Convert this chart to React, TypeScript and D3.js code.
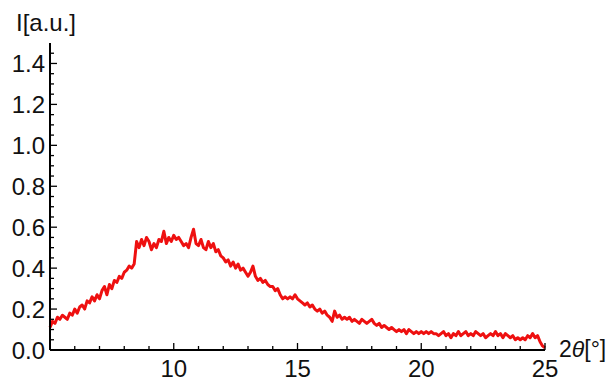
import React, { useEffect, useRef } from 'react';
import * as d3 from 'd3';

// sampling grid start / step of the scan (2θ in degrees)
const angleStart = 5;
const angleStep = 0.1;

// intensity, one value per 0.1° from 5° to 25°
const intensity = [
  0.11, 0.14, 0.13, 0.16, 0.15, 0.17, 0.16, 0.15, 0.18, 0.17,
  0.20, 0.18, 0.21, 0.22, 0.20, 0.24, 0.23, 0.26, 0.24, 0.27,
  0.25, 0.29, 0.31, 0.27, 0.32, 0.30, 0.34, 0.33, 0.36, 0.35,
  0.38, 0.39, 0.41, 0.40, 0.42, 0.53, 0.50, 0.54, 0.51, 0.55,
  0.53, 0.49, 0.52, 0.50, 0.54, 0.53, 0.58, 0.52, 0.55, 0.53,
  0.56, 0.54, 0.55, 0.53, 0.51, 0.52, 0.50, 0.55, 0.59, 0.52,
  0.51, 0.54, 0.50, 0.49, 0.53, 0.50, 0.52, 0.48, 0.49, 0.46,
  0.45, 0.43, 0.44, 0.41, 0.43, 0.40, 0.42, 0.39, 0.40, 0.38,
  0.36, 0.38, 0.41, 0.36, 0.34, 0.35, 0.33, 0.34, 0.32, 0.31,
  0.31, 0.29, 0.30, 0.27, 0.25, 0.26, 0.25, 0.26, 0.25, 0.27,
  0.25, 0.24, 0.23, 0.22, 0.23, 0.21, 0.22, 0.20, 0.19, 0.20,
  0.18, 0.19, 0.17, 0.16, 0.14, 0.19, 0.16, 0.17, 0.15, 0.16,
  0.15, 0.16, 0.14, 0.15, 0.14, 0.13, 0.15, 0.14, 0.13, 0.14,
  0.15, 0.13, 0.12, 0.13, 0.11, 0.12, 0.11, 0.10, 0.11, 0.10,
  0.09, 0.10, 0.09, 0.10, 0.08, 0.10, 0.09, 0.08, 0.09, 0.08,
  0.09, 0.08, 0.09, 0.08, 0.09, 0.08, 0.08, 0.07, 0.08, 0.09,
  0.07, 0.08, 0.06, 0.08, 0.07, 0.09, 0.07, 0.08, 0.09, 0.07,
  0.08, 0.07, 0.09, 0.08, 0.07, 0.08, 0.06, 0.07, 0.08, 0.07,
  0.09, 0.07, 0.08, 0.06, 0.08, 0.07, 0.06, 0.07, 0.05, 0.06,
  0.05, 0.06, 0.05, 0.07, 0.06, 0.08, 0.06, 0.07, 0.04, 0.02,
  0.01,
];

const xMajor = [10, 15, 20, 25];
const xMinor = [6, 7, 8, 9, 11, 12, 13, 14, 16, 17, 18, 19, 21, 22, 23, 24];
const yMajor = [0, 0.2, 0.4, 0.6, 0.8, 1.0, 1.2, 1.4];
const yMinor = [0.05, 0.1, 0.15, 0.25, 0.3, 0.35, 0.45, 0.5, 0.55, 0.65, 0.7, 0.75,
  0.85, 0.9, 0.95, 1.05, 1.1, 1.15, 1.25, 1.3, 1.35, 1.45];

const W = 612;
const H = 381;
const FONT = '"Liberation Sans", Arial, sans-serif';

function App() {
  const ref = useRef<SVGSVGElement>(null);

  useEffect(() => {
    const svg = d3.select(ref.current);
    svg.selectAll('*').remove();

    const x = d3.scaleLinear().domain([5, 25]).range([50, 545]);
    const y = d3.scaleLinear().domain([0, 1.5]).range([350, 43]);

    const pts = intensity.map((v, i) => [angleStart + i * angleStep, v] as [number, number]);

    const line = d3.line<[number, number]>()
      .x(d => x(d[0]))
      .y(d => y(d[1]));

    svg.append('path')
      .datum(pts)
      .attr('d', line)
      .attr('fill', 'none')
      .attr('stroke', '#ee1010')
      .attr('stroke-width', 3)
      .attr('stroke-linejoin', 'round');

    // x axis
    const gx = svg.append('g').attr('transform', `translate(0,${y(0)})`);
    gx.append('line')
      .attr('x1', x(5)).attr('x2', x(25))
      .attr('stroke', '#000').attr('stroke-width', 2);
    gx.selectAll('.maj').data(xMajor).enter().append('line')
      .attr('x1', d => x(d)).attr('x2', d => x(d))
      .attr('y1', 0).attr('y2', -7)
      .attr('stroke', '#000').attr('stroke-width', 1.3);
    gx.selectAll('.min').data(xMinor).enter().append('line')
      .attr('x1', d => x(d)).attr('x2', d => x(d))
      .attr('y1', 0).attr('y2', -4)
      .attr('stroke', '#000').attr('stroke-width', 1.3);
    gx.selectAll('text').data(xMajor).enter().append('text')
      .attr('x', d => x(d))
      .attr('y', 27)
      .attr('text-anchor', 'middle')
      .attr('font-family', FONT)
      .attr('font-size', 24)
      .attr('fill', '#111')
      .text(d => d);

    // y axis
    const gy = svg.append('g').attr('transform', `translate(${x(5)},0)`);
    gy.append('line')
      .attr('y1', y(0)).attr('y2', y(1.5))
      .attr('stroke', '#000').attr('stroke-width', 2);
    gy.selectAll('.maj').data(yMajor).enter().append('line')
      .attr('y1', d => y(d)).attr('y2', d => y(d))
      .attr('x1', 0).attr('x2', 7)
      .attr('stroke', '#000').attr('stroke-width', 1.3);
    gy.selectAll('.min').data(yMinor).enter().append('line')
      .attr('y1', d => y(d)).attr('y2', d => y(d))
      .attr('x1', 0).attr('x2', 4)
      .attr('stroke', '#000').attr('stroke-width', 1.3);
    gy.selectAll('text').data(yMajor).enter().append('text')
      .attr('x', -5)
      .attr('y', d => y(d))
      .attr('dy', '0.36em')
      .attr('text-anchor', 'end')
      .attr('font-family', FONT)
      .attr('font-size', 24)
      .attr('fill', '#111')
      .text(d => d.toFixed(1));

    // axis labels
    svg.append('text')
      .attr('x', 16).attr('y', 31)
      .attr('font-family', FONT)
      .attr('font-size', 24)
      .attr('fill', '#111')
      .text('I[a.u.]');

    const xl = svg.append('text')
      .attr('x', 559).attr('y', 357)
      .attr('font-family', FONT)
      .attr('font-size', 23)
      .attr('fill', '#111');
    xl.append('tspan').text('2');
    xl.append('tspan').attr('font-style', 'italic').text('θ');
    xl.append('tspan').text('[°]');
  }, []);

  return (
    <svg
      ref={ref}
      width={W}
      height={H}
      style={{ position: 'absolute', left: 0, top: 0, background: '#fff' }}
    />
  );
}

export default App;
